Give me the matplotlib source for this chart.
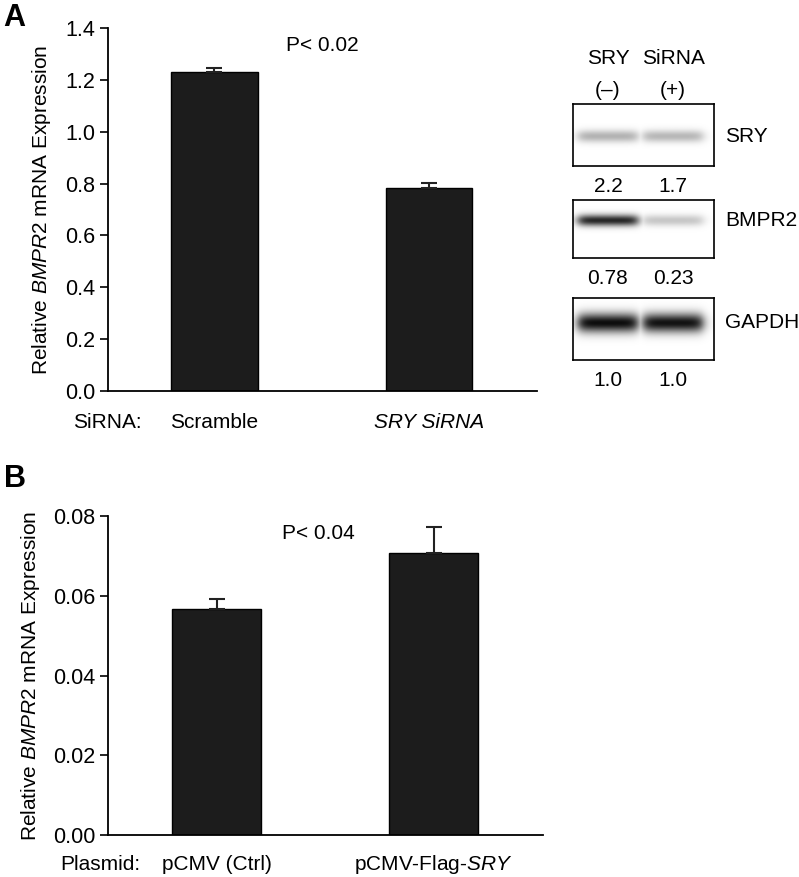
import numpy as np
import matplotlib
matplotlib.use("Agg")
import matplotlib.pyplot as plt
from matplotlib.transforms import blended_transform_factory

plt.rcParams['font.family'] = ['Liberation Sans', 'DejaVu Sans']
plt.rcParams['mathtext.fontset'] = 'custom'
plt.rcParams['mathtext.rm'] = 'Liberation Sans'
plt.rcParams['mathtext.it'] = 'Liberation Sans:italic'

# ---------------- data ----------------
a_categories = ["Scramble", "SRY SiRNA"]
a_values = [1.23, 0.783]
a_errors = [0.014, 0.019]
a_yticks = [0.0, 0.2, 0.4, 0.6, 0.8, 1.0, 1.2, 1.4]
a_pvalue = "P< 0.02"

b_categories = ["pCMV (Ctrl)", "pCMV-Flag-$\\mathit{SRY}$"]
b_values = [0.0566, 0.0706]
b_errors = [0.0026, 0.0066]
b_yticks = [0.00, 0.02, 0.04, 0.06, 0.08]
b_pvalue = "P< 0.04"

blot_proteins = ["SRY", "BMPR2", "GAPDH"]
blot_lane_headers = [("SRY", "(–)"), ("SiRNA", "(+)")]
blot_quant = [["2.2", "1.7"], ["0.78", "0.23"], ["1.0", "1.0"]]
blot_band_intensity = [[0.30, 0.28], [0.85, 0.22], [0.95, 0.93]]

W, H = 799, 877
fig = plt.figure(figsize=(W / 100, H / 100), dpi=100)

def rect(l, t, r, b):
    return [l / W, 1 - b / H, (r - l) / W, (b - t) / H]

FS = 15
BAR_COLOR = "#1c1c1c"

def style_axes(ax):
    for s in ("top", "right"):
        ax.spines[s].set_visible(False)
    ax.spines["left"].set_linewidth(1.3)
    ax.spines["bottom"].set_linewidth(1.3)
    ax.tick_params(axis="y", length=6, width=1.2, labelsize=FS + 0.5, pad=3)
    ax.set_xticks([])

def cat_labels(ax, cats, ypix, italic_idx=()):
    tr = blended_transform_factory(ax.transData, fig.transFigure)
    for i, c in enumerate(cats):
        ax.text(i, 1 - ypix / H, c, transform=tr, fontsize=FS, ha="center",
                va="center", fontstyle="italic" if i in italic_idx else "normal")

# ---------------- panel A ----------------
axA = fig.add_axes(rect(108, 28, 537, 391))
xa = np.arange(len(a_categories))
axA.bar(xa, a_values, width=0.405, color=BAR_COLOR, edgecolor="black", linewidth=1)
axA.errorbar(xa, a_values, yerr=[np.zeros(len(a_errors)), a_errors], fmt="none",
             ecolor="#222222", elinewidth=1.5, capsize=6, capthick=1.5)
axA.set_xlim(-0.4965, 1.5035)
axA.set_ylim(0, 1.4)
axA.set_yticks(a_yticks)
axA.set_yticklabels([f"{v:.1f}" for v in a_yticks])
style_axes(axA)
cat_labels(axA, a_categories, 422, italic_idx=(1,))
axA.set_ylabel("Relative $\\mathit{BMPR2}$ mRNA Expression", fontsize=FS)
axA.yaxis.set_label_coords(-(108 - 53) / 429, 0.5)
axA.text(0.499, 0.953, a_pvalue, transform=axA.transAxes, fontsize=FS,
         ha="center", va="center")
fig.text(73 / W, 1 - 422 / H, "SiRNA:", fontsize=FS, ha="left", va="center")
fig.text(3 / W, 1 - 18 / H, "A", fontsize=22, fontweight="bold", ha="left", va="center")

# ---------------- panel B ----------------
axB = fig.add_axes(rect(108, 516, 543, 835))
xb = np.arange(len(b_categories))
axB.bar(xb, b_values, width=0.41, color=BAR_COLOR, edgecolor="black", linewidth=1)
axB.errorbar(xb, b_values, yerr=[np.zeros(len(b_errors)), b_errors], fmt="none",
             ecolor="#222222", elinewidth=1.5, capsize=6, capthick=1.5)
axB.set_xlim(-0.5, 1.5046)
axB.set_ylim(0, 0.08)
axB.set_yticks(b_yticks)
axB.set_yticklabels([f"{v:.2f}" for v in b_yticks])
style_axes(axB)
cat_labels(axB, b_categories, 865)
axB.set_ylabel("Relative $\\mathit{BMPR2}$ mRNA Expression", fontsize=FS)
axB.yaxis.set_label_coords(-(108 - 42) / 435, 0.5)
axB.text((318 - 108) / 435, 0.944, b_pvalue, transform=axB.transAxes, fontsize=FS,
         ha="center", va="center")
fig.text(60 / W, 1 - 865 / H, "Plasmid:", fontsize=FS, ha="left", va="center")
fig.text(4 / W, 1 - 479 / H, "B", fontsize=22, fontweight="bold", ha="left", va="center")

# ---------------- western blots ----------------
boxes = [(104, 166), (200, 258), (298, 360)]
band_rel_y = [0.52, 0.35, 0.40]
box_l, box_r = 573, 714
lane_px = [608, 673]
for i, (top, bot) in enumerate(boxes):
    axw = fig.add_axes(rect(box_l, top, box_r, bot))
    nx, ny = 300, 120
    xx = np.linspace(box_l, box_r, nx)
    yy = np.linspace(0, 1, ny)
    X, Y = np.meshgrid(xx, yy)
    img = np.zeros_like(X)
    for li, cx in enumerate(lane_px):
        amp = blot_band_intensity[i][li]
        prof_x = 1 / (1 + np.exp((np.abs(X - cx) - 30) / 3.0))
        sig = 0.07 if i != 2 else 0.11
        prof_y = np.exp(-((Y - band_rel_y[i]) ** 2) / (2 * sig ** 2))
        img = np.maximum(img, amp * prof_x * prof_y)
    axw.imshow(1 - img, cmap="gray", vmin=0, vmax=1, aspect="auto",
               extent=[0, 1, 1, 0], interpolation="bilinear")
    axw.set_xticks([])
    axw.set_yticks([])
    for s in axw.spines.values():
        s.set_linewidth(1.2)
    fig.text(725 / W, 1 - (top + (bot - top) * band_rel_y[i]) / H, blot_proteins[i],
             fontsize=FS, ha="left", va="center")
    for li, cx in enumerate(lane_px):
        fig.text(cx / W, 1 - (bot + 20) / H, blot_quant[i][li], fontsize=FS,
                 ha="center", va="center")

for li, cx in enumerate(lane_px):
    fig.text(cx / W, 1 - 58 / H, blot_lane_headers[li][0], fontsize=FS,
             ha="center", va="center")
    fig.text(cx / W, 1 - 90 / H, blot_lane_headers[li][1], fontsize=FS,
             ha="center", va="center")

fig.savefig("out.png", dpi=100)
